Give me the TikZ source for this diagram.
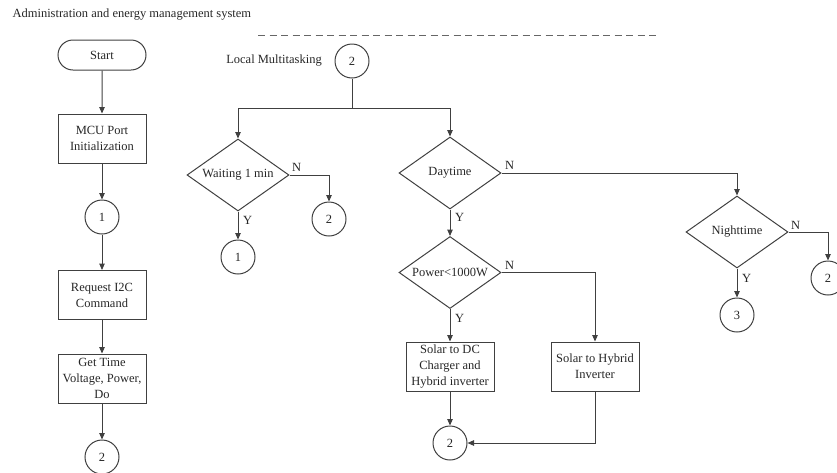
\documentclass[tikz,border=0pt]{standalone}
\usepackage{fontspec}
\setmainfont{Liberation Serif}
\usetikzlibrary{shapes.geometric,shapes.misc,arrows.meta}
\begin{document}
\begin{tikzpicture}[x=1pt,y=-1pt,
  every node/.style={font=\fontsize{12.5}{16}\selectfont, text=black!85},
  ln/.style={draw=black!75, line width=1pt},
  arr/.style={ln, -{Triangle[length=6.5pt,width=5.5pt]}},
  terminal/.style={rounded rectangle, draw=black!75, line width=1pt, minimum width=88pt, minimum height=30pt, inner sep=0pt},
  procbox/.style={rectangle, draw=black!75, line width=1pt, minimum width=88pt, minimum height=49pt, inner sep=1pt, align=center},
  decision/.style={diamond, draw=black!75, line width=1pt, minimum width=102pt, minimum height=72pt, inner sep=0pt, shape aspect=1.4},
  conn/.style={circle, draw=black!75, line width=1pt, minimum size=34pt, inner sep=0pt},
  yn/.style={inner sep=0pt}
]
\useasboundingbox (0,0) rectangle (837,472);

% heading and separator
\node[anchor=west] (title) at (9,15) {Administration and energy management system};
\coordinate (dashL) at (258,35);
\coordinate (dashR) at (659,35);
\draw[draw=black!60, line width=1pt, dash pattern=on 7pt off 4.5pt] (dashL) -- (dashR);

% ---- main sequence ----
\node[terminal] (start) at (102,55) {Start};
\node[procbox] (mcu) at (102,138.5) {MCU Port\\Initialization};
\node[conn] (c1) at (102,217) {1};
\node[procbox] (req) at (102,295) {Request I2C\\Command};
\node[procbox] (get) at (102,378.5) {Get Time\\Voltage, Power,\\Do};
\node[conn] (c2a) at (102,457) {2};

\draw[arr] (start) -- (mcu);
\draw[arr] (mcu) -- (c1);
\draw[arr] (c1) -- (req);
\draw[arr] (req) -- (get);
\draw[arr] (get) -- (c2a);

% ---- local multitasking ----
\node (lmt) at (274,61) {Local Multitasking};
\node[conn] (c2b) at (352,61) {2};
\coordinate (split) at (352,108);
\coordinate (splitL) at (238,108);
\coordinate (splitR) at (450,108);

\node[decision] (wait) at (238,175) {Waiting 1 min};
\node[conn] (c2c) at (329,219) {2};
\node[conn] (c1b) at (238,257) {1};

\node[decision] (day) at (450,173) {Daytime};
\node[decision] (night) at (737,232) {Nighttime};
\node[conn] (c2d) at (828,278) {2};
\node[conn] (c3) at (737,315) {3};

\node[decision] (pw) at (450,272.5) {Power<1000W};
\node[procbox] (dc) at (450,366.5) {Solar to DC\\Charger and\\Hybrid inverter};
\node[procbox] (hyb) at (595,366.5) {Solar to Hybrid\\Inverter};
\node[conn] (c2e) at (450,443) {2};

% branching from the connector
\draw[ln] (c2b) -- (split);
\draw[ln] (splitL) -- (splitR);
\draw[arr] (splitL) -- (wait.north);
\draw[arr] (splitR) -- (day.north);

% waiting branch
\draw[arr] (wait.east) -| (c2c.north);
\node[yn, anchor=south west] at (292,172) {N};
\draw[arr] (wait.south) -- (c1b.north);
\node[yn, anchor=west] at (243,220) {Y};

% daytime / nighttime
\draw[arr] (day.east) -| (night.north);
\node[yn, anchor=south west] at (505,170) {N};
\draw[arr] (day.south) -- (pw.north);
\node[yn, anchor=west] at (455,217) {Y};

\draw[arr] (night.east) -| (c2d.north);
\node[yn, anchor=south west] at (791,230) {N};
\draw[arr] (night.south) -- (c3.north);
\node[yn, anchor=west] at (742,278) {Y};

% power threshold
\draw[arr] (pw.east) -| (hyb.north);
\node[yn, anchor=south west] at (505,270) {N};
\draw[arr] (pw.south) -- (dc.north);
\node[yn, anchor=west] at (455,318) {Y};

\draw[arr] (dc) -- (c2e);
\draw[arr] (hyb.south) |- (c2e.east);
\end{tikzpicture}
\end{document}
